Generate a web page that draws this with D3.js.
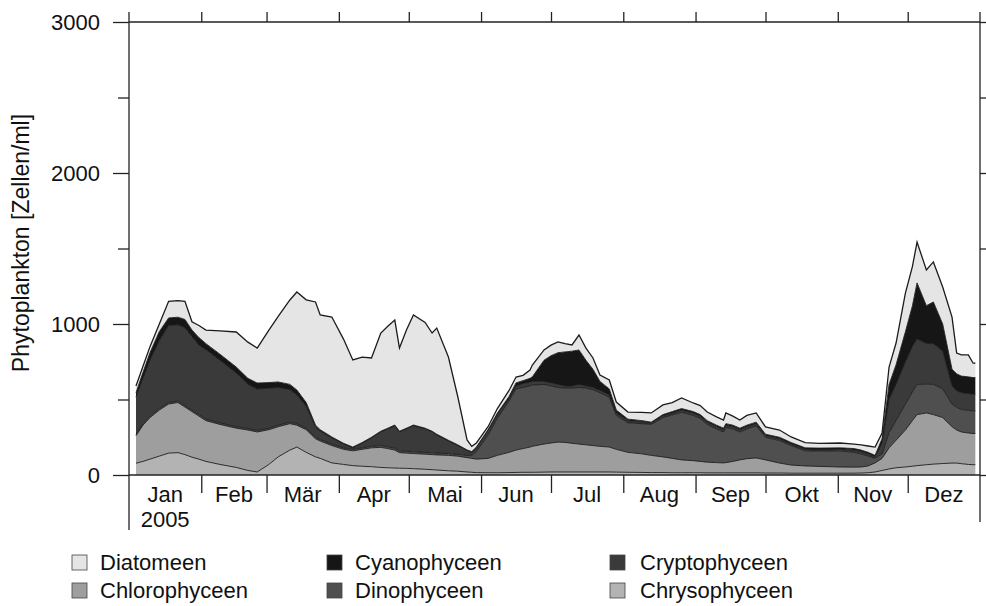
<!DOCTYPE html>
<html><head><meta charset="utf-8">
<script src="https://cdn.jsdelivr.net/npm/d3@7"></script>
<style>
body{margin:0;background:#fff}
svg{display:block}
text{font-family:"Liberation Sans",Arial,Helvetica,sans-serif;fill:#111}
</style>
</head><body>
<svg id="chart" width="986" height="606"></svg>
<script>
// ---- data (cells/ml) ----
const dates = ["2005-01-04","2005-01-07","2005-01-10","2005-01-14","2005-01-18","2005-01-22","2005-01-25","2005-01-28","2005-01-31","2005-02-03",
"2005-02-09","2005-02-16","2005-02-21","2005-02-25","2005-03-02","2005-03-06","2005-03-11","2005-03-14","2005-03-18","2005-03-22",
"2005-03-24","2005-03-29","2005-04-03","2005-04-07","2005-04-11","2005-04-15","2005-04-19","2005-04-22","2005-04-25","2005-04-27",
"2005-04-30","2005-05-03","2005-05-08","2005-05-11","2005-05-13","2005-05-18","2005-05-22","2005-05-26","2005-05-28","2005-05-30",
"2005-06-04","2005-06-08","2005-06-13","2005-06-16","2005-06-19","2005-06-22","2005-06-23","2005-06-28","2005-07-01","2005-07-04",
"2005-07-07","2005-07-10","2005-07-13","2005-07-16","2005-07-19","2005-07-22","2005-07-26","2005-07-29","2005-08-03","2005-08-09",
"2005-08-13","2005-08-18","2005-08-22","2005-08-26","2005-08-31","2005-09-03","2005-09-06","2005-09-10","2005-09-13","2005-09-14",
"2005-09-17","2005-09-20","2005-09-23","2005-09-27","2005-10-01","2005-10-07","2005-10-12","2005-10-18","2005-10-24","2005-11-02",
"2005-11-08","2005-11-11","2005-11-14","2005-11-17","2005-11-20","2005-11-23","2005-11-26","2005-11-30","2005-12-03","2005-12-05",
"2005-12-09","2005-12-12","2005-12-16","2005-12-20","2005-12-22","2005-12-24","2005-12-27","2005-12-29","2005-12-30"];

const chrysophyceen = [78,90,105,125,145,148,135,118,105,90,
70,50,30,20,70,120,165,185,150,120,
110,80,70,62,58,55,50,48,46,45,
44,42,38,35,33,28,25,20,18,16,
15,15,16,17,18,18,18,19,20,20,
20,20,20,20,20,20,20,19,18,17,
16,16,15,15,15,15,14,14,14,14,
14,14,14,14,13,13,12,12,12,12,
12,13,15,20,30,40,48,53,58,62,
68,72,76,79,79,75,70,68,68];

const chlorophyceen = [182,240,275,305,325,332,315,302,285,270,
265,260,268,265,230,200,175,145,150,120,
115,115,100,98,112,125,133,127,119,103,
101,100,100,100,100,102,100,95,92,89,
95,115,134,148,157,167,172,186,192,198,
196,190,185,180,175,170,165,151,132,123,
114,104,95,85,80,75,71,68,66,68,
76,86,94,99,87,66,54,48,45,41,
40,40,45,60,80,140,182,245,302,338,
343,328,304,241,219,210,208,207,207];

const dinophyceen = [10,10,10,10,10,10,10,10,10,10,
10,10,10,10,10,10,10,10,10,10,
10,10,10,10,10,10,12,12,12,12,
12,12,12,12,12,12,12,15,20,50,
155,245,340,405,405,405,405,395,378,362,
359,365,375,375,370,355,330,225,195,200,
205,260,288,315,300,285,250,223,205,233,
215,185,197,212,150,149,129,100,101,107,
98,87,65,30,30,100,130,170,190,200,
190,200,190,150,150,150,150,150,150];

const cryptophyceen = [245,300,370,450,510,505,515,485,460,460,
415,355,292,275,265,250,215,190,145,68,
55,40,25,10,30,55,90,118,148,125,
148,171,155,138,120,83,58,32,20,25,
30,25,15,20,25,25,25,20,20,20,
15,15,20,15,15,15,15,15,15,12,
10,12,12,15,15,15,15,15,15,15,
15,15,15,15,12,12,10,10,10,10,
15,15,15,10,70,220,240,280,300,300,
270,270,250,120,110,110,110,110,110];

const cyanophyceen = [30,40,50,60,50,50,55,45,50,40,
40,40,40,39,37,36,35,33,25,12,
10,7,5,5,5,5,5,5,6,5,
5,6,5,5,5,5,5,4,5,5,
5,10,15,20,20,25,30,140,180,210,
225,230,228,170,120,60,40,20,10,8,
5,8,10,10,10,10,10,10,10,10,
10,10,10,10,8,10,10,10,10,10,
10,10,10,10,30,100,130,200,270,372,
250,276,180,110,112,110,112,110,110];

const diatomeen = [45,40,40,50,110,110,120,55,80,90,
155,232,240,232,348,434,559,649,680,816,
760,794,690,577,566,525,650,675,695,551,
650,729,700,650,703,551,320,66,35,27,
20,30,40,39,35,55,78,68,70,71,
55,41,99,80,75,42,59,53,47,55,
61,64,60,70,57,60,57,55,54,71,
60,54,65,61,48,48,37,35,32,32,
30,34,42,55,38,115,144,257,260,271,
237,265,245,346,138,140,145,97,95];

const seriesNames = ["Chrysophyceen","Chlorophyceen","Dinophyceen","Cryptophyceen","Cyanophyceen","Diatomeen"];
const seriesColors = ["#b3b3b3","#9e9e9e","#4f4f4f","#3a3a3a","#161616","#e5e5e5"];
const legendOrder = ["Diatomeen","Cyanophyceen","Cryptophyceen","Chlorophyceen","Dinophyceen","Chrysophyceen"];
const monthLabels = ["Jan","Feb","Mär","Apr","Mai","Jun","Jul","Aug","Sep","Okt","Nov","Dez"];
const yearLabel = "2005";
const yLabelTicks = [0,1000,2000,3000];
const yMinorTicks = [500,1500,2500];
const yAllTicks = [0,500,1000,1500,2000,2500,3000];
const yTitle = "Phytoplankton [Zellen/ml]";

(function(){
// ---- build ----
const parse = d3.timeParse("%Y-%m-%d");
const seriesArrays = [chrysophyceen, chlorophyceen, dinophyceen, cryptophyceen, cyanophyceen, diatomeen];
const table = dates.map((d,i)=>{
  const row = {date: parse(d)};
  seriesNames.forEach((n,k)=>row[n]=seriesArrays[k][i]);
  return row;
});
const color = d3.scaleOrdinal().domain(seriesNames).range(seriesColors);

const L=129, R=980, T=22, B=475;
const x = d3.scaleTime().domain([new Date(2005,0,1), new Date(2006,0,1)]).range([L,R]);
const y = d3.scaleLinear().domain([0,3000]).range([B,T]);

const svg = d3.select("#chart");
const stacked = d3.stack().keys(seriesNames)(table);

const area = d3.area().x(d=>x(d.data.date)).y0(d=>y(d[0])).y1(d=>y(d[1])).curve(d3.curveLinear);
const topLine = d3.line().x(d=>x(d.data.date)).y(d=>y(d[1])).curve(d3.curveLinear);

const g = svg.append("g");
g.selectAll("path.area").data(stacked).join("path")
  .attr("class","area").attr("d",area).attr("fill",d=>color(d.key)).attr("stroke","none");
g.selectAll("path.topl").data(stacked).join("path")
  .attr("class","topl").attr("d",topLine).attr("fill","none")
  .attr("stroke","#1b1b1b").attr("stroke-width",d=>d.key==="Diatomeen"?1.3:0.9);

// frame lines
const frame = svg.append("g").attr("stroke","#222").attr("stroke-width",1.3).attr("fill","none");
frame.append("line").attr("x1",L).attr("x2",L).attr("y1",12).attr("y2",530);
frame.append("line").attr("x1",R).attr("x2",R).attr("y1",12).attr("y2",522);
frame.append("line").attr("x1",L).attr("x2",R).attr("y1",T).attr("y2",T);
frame.append("line").attr("x1",L).attr("x2",R).attr("y1",B).attr("y2",B);

// left axis (labeled)
const leftMajor = svg.append("g").attr("transform",`translate(${L},0)`)
  .call(d3.axisLeft(y).tickValues(yLabelTicks).tickSize(16).tickPadding(13).tickFormat(d3.format("d")));
leftMajor.select(".domain").remove();
leftMajor.selectAll("line").attr("stroke","#222").attr("stroke-width",1.3);
leftMajor.selectAll("text").attr("font-size",22).attr("fill","#111")
  .style("font-family","'Liberation Sans',Arial,sans-serif");

const leftMinor = svg.append("g").attr("transform",`translate(${L},0)`)
  .call(d3.axisLeft(y).tickValues(yMinorTicks).tickSize(11).tickFormat(""));
leftMinor.select(".domain").remove();
leftMinor.selectAll("line").attr("stroke","#222").attr("stroke-width",1.3);

// right axis
const rightAx = svg.append("g").attr("transform",`translate(${R},0)`)
  .call(d3.axisRight(y).tickValues(yAllTicks).tickSize(6).tickFormat(""));
rightAx.select(".domain").remove();
rightAx.selectAll("line").attr("stroke","#222").attr("stroke-width",1.3);

// top axis: month boundary ticks
const monthStarts = d3.timeMonth.range(new Date(2005,1,1), new Date(2006,0,1));
const topAx = svg.append("g").attr("transform",`translate(0,${T})`)
  .call(d3.axisTop(x).tickValues(monthStarts).tickSize(10).tickFormat(""));
topAx.select(".domain").remove();
topAx.selectAll("line").attr("stroke","#222").attr("stroke-width",1.3);

// bottom axis: month separators
const bottomAx = svg.append("g").attr("transform",`translate(0,${B})`)
  .call(d3.axisBottom(x).tickValues(monthStarts).tickSize(18).tickFormat(""));
bottomAx.select(".domain").remove();
bottomAx.selectAll("line").attr("stroke","#222").attr("stroke-width",1.3);

// month labels centred in each month
const allMonths = d3.timeMonth.range(new Date(2005,0,1), new Date(2006,0,1));
svg.append("g").selectAll("text").data(allMonths).join("text")
  .attr("x",d=>(x(d)+x(d3.timeMonth.offset(d,1)))/2)
  .attr("y",502).attr("text-anchor","middle").attr("font-size",22)
  .text((d,i)=>monthLabels[i]);
svg.append("text").attr("x",(x(allMonths[0])+x(allMonths[1]))/2).attr("y",527)
  .attr("text-anchor","middle").attr("font-size",22).text(yearLabel);

// y title
svg.append("text").attr("transform","translate(29,243) rotate(-90)")
  .attr("text-anchor","middle").attr("font-size",23).text(yTitle);

// legend
const legPos = [[72,555],[327,555],[610,555],[72,583],[327,583],[610,583]];
const leg = svg.append("g");
legendOrder.forEach((name,i)=>{
  const [lx,ly]=legPos[i];
  leg.append("rect").attr("x",lx).attr("y",ly).attr("width",15).attr("height",15)
    .attr("fill",color(name)).attr("stroke","#444").attr("stroke-width",0.8);
  leg.append("text").attr("x",lx + (i%3===2?30:28)).attr("y",ly+15).attr("font-size",22).text(name);
});
})();
</script>
</body></html>
